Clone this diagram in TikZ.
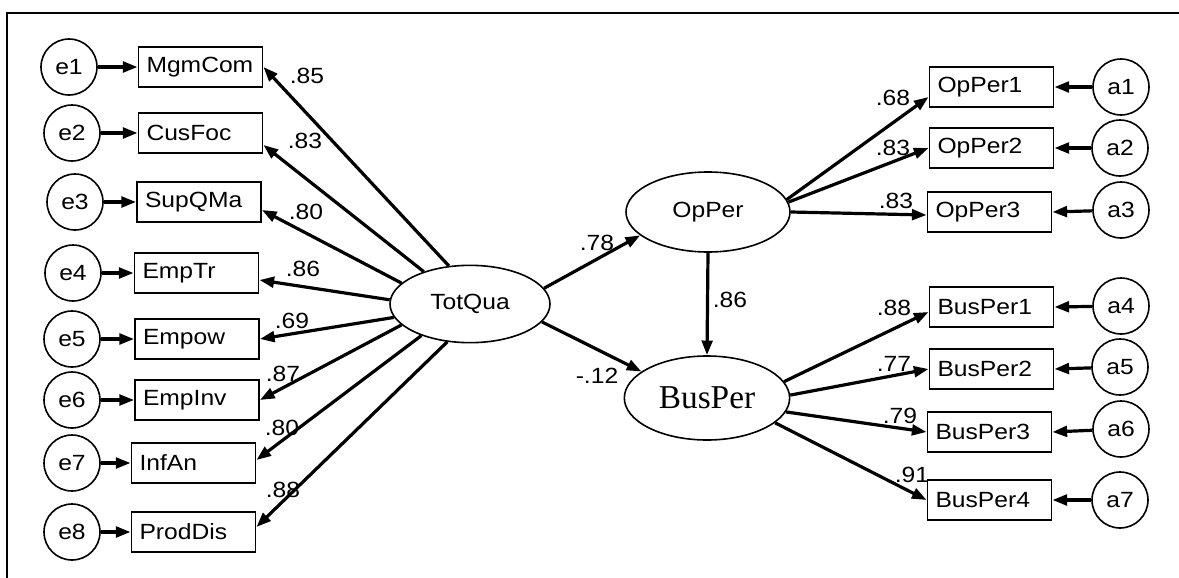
\documentclass[tikz,border=0pt]{standalone}
\usepackage{fontspec}
\setmainfont{Liberation Sans}
\newfontfamily\amos[FakeStretch=1.12]{Liberation Sans}
\newfontfamily\amosserif{Liberation Serif}
\usetikzlibrary{shapes.geometric,arrows.meta,calc}
\begin{document}
\begin{tikzpicture}[x=0.75pt,y=-0.75pt,
  every node/.style={font=\amos\fontsize{16.5}{19}\selectfont},
  obs/.style={draw,line width=1.4pt,minimum width=93pt,minimum height=29.5pt,inner sep=0pt,text width=81pt,align=left},
  err/.style={draw,circle,line width=1.2pt,minimum size=42pt,inner sep=0pt},
  lat/.style={draw,ellipse,line width=1.2pt,inner sep=0pt},
  arr/.style={line width=2.4pt,-{Triangle[length=11pt,width=8pt]}},
  lab/.style={inner sep=0pt}]
\useasboundingbox (0,0) rectangle (1179,578);
\draw[line width=1.6pt] (7,578) -- (7,13) -- (1179,13);

% latent variables
\node[lat,minimum width=120pt,minimum height=58pt] (tq) at (470,304) {TotQua};
\node[lat,minimum width=123pt,minimum height=60pt] (op) at (708,212) {OpPer};
\node[lat,minimum width=124pt,minimum height=63pt,font=\amosserif\fontsize{25}{29}\selectfont] (bp) at (707,398) {BusPer};

% left observed
\node[obs] (b1) at (200.5,67) {MgmCom};
\node[obs] (b2) at (200.5,133) {CusFoc};
\node[obs] (b3) at (199,202) {SupQMa};
\node[obs] (b4) at (196.5,273) {EmpTr};
\node[obs] (b5) at (197,339) {Empow};
\node[obs] (b6) at (197,400) {EmpInv};
\node[obs] (b7) at (193.5,463) {InfAn};
\node[obs] (b8) at (193.5,532) {ProdDis};

\node[err] (e1) at (69,67) {e1};
\node[err] (e2) at (72,133) {e2};
\node[err] (e3) at (75,202) {e3};
\node[err] (e4) at (73,273) {e4};
\node[err] (e5) at (72,339) {e5};
\node[err] (e6) at (72,400) {e6};
\node[err] (e7) at (72,463) {e7};
\node[err] (e8) at (72,532) {e8};

% right observed
\node[obs] (r1) at (991.5,87) {OpPer1};
\node[obs] (r2) at (991.5,148) {OpPer2};
\node[obs] (r3) at (989.5,212) {OpPer3};
\node[obs] (r4) at (991.5,307) {BusPer1};
\node[obs] (r5) at (991.5,369) {BusPer2};
\node[obs] (r6) at (989.5,432) {BusPer3};
\node[obs] (r7) at (989.5,500) {BusPer4};

\node[err] (a1) at (1121,87) {a1};
\node[err] (a2) at (1120,148) {a2};
\node[err] (a3) at (1121,210) {a3};
\node[err] (a4) at (1121,306) {a4};
\node[err] (a5) at (1120,367) {a5};
\node[err] (a6) at (1121,429) {a6};
\node[err] (a7) at (1120,500) {a7};

% error arrows
\foreach \i in {1,...,8} {\draw[arr] (e\i) -- (b\i.west);}
\foreach \i in {1,...,7} {\draw[arr] (a\i) -- (r\i.east);}

% loadings TotQua
\draw[arr] (tq.119) -- (b1.east);
\draw[arr] (tq.145) -- ($(b2.east)+(0,12)$);
\draw[arr] (tq.163) -- ($(b3.east)+(0,8)$);
\draw[arr] (tq.177) -- ($(b4.east)+(0,7)$);
\draw[arr] (tq.190) -- (b5.east);
\draw[arr] (tq.197) -- (b6.east);
\draw[arr] (tq.213) -- ($(b7.east)+(0,-3)$);
\draw[arr] (tq.239) -- ($(b8.east)+(0,-5)$);

% structural paths
\draw[arr] (tq.12) -- (op.199);
\draw[arr] (tq.346) -- (bp.158);
\draw[arr] (op.south) -- (bp.north);

% OpPer loadings
\draw[arr] (op.9) -- ($(r1.west)+(0,10)$);
\draw[arr] (op.7) -- (r2.west);
\draw[arr] (op.0) -- ($(r3.west)+(0,3)$);

% BusPer loadings
\draw[arr] (bp.12) -- ($(r4.west)+(0,5)$);
\draw[arr] (bp.2) -- (r5.west);
\draw[arr] (bp.-10) -- (r6.west);
\draw[arr] (bp.-20) -- (r7.west);

% labels
\node[lab] (l1) at (307,76) {.85};
\node[lab] (l2) at (305,141) {.83};
\node[lab] (l3) at (306,212) {.80};
\node[lab] (l4) at (303,269) {.86};
\node[lab] (l5) at (292,321) {.69};
\node[lab] (l6) at (283,374) {.87};
\node[lab] (l7) at (282,428) {.80};
\node[lab] (l8) at (283,490) {.88};
\node[lab] (s1) at (597,243) {.78};
\node[lab] (s2) at (730,300) {.86};
\node[lab] (s3) at (597,376) {-.12};
\node[lab] (m1) at (893,98) {.68};
\node[lab] (m2) at (893,148) {.83};
\node[lab] (m3) at (896,201) {.83};
\node[lab] (m4) at (894,308) {.88};
\node[lab] (m5) at (894,364) {.77};
\node[lab] (m6) at (900,416) {.79};
\node[lab] (m7) at (912,475) {.91};
\end{tikzpicture}
\end{document}
